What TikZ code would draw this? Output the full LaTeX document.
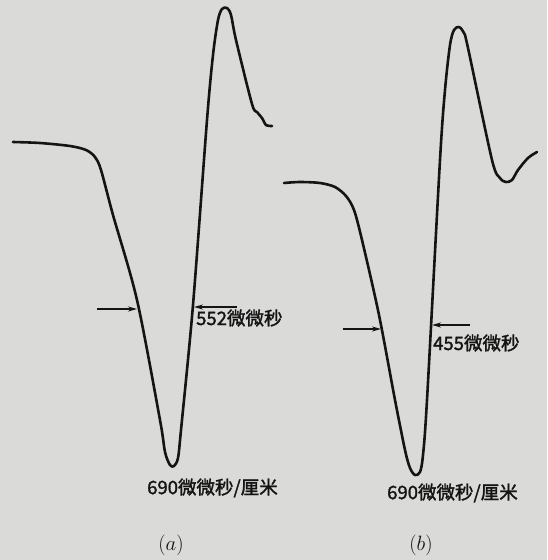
\documentclass[tikz,border=0pt]{standalone}
\usepackage{fontspec}
\setmainfont{Noto Sans CJK SC}
\newfontfamily\lblfont{Noto Sans CJK SC}[FakeBold=1.6]
\usetikzlibrary{arrows.meta}
\definecolor{paper}{RGB}{218,218,216}
\definecolor{ink}{RGB}{20,20,20}
\tikzset{
	trace/.style={ink, line width=2.6pt, line cap=round, line join=round},
	dimarrow/.style={ink, line width=1.5pt, -{Stealth[length=9pt,width=5pt]}},
	lbl/.style={ink, font=\lblfont\fontsize{18.5}{20}\selectfont, inner sep=0pt},
	sublbl/.style={ink, font=\fontsize{21}{23}\selectfont, inner sep=0pt}
}
\begin{document}
\begin{tikzpicture}[x=1pt, y=-1pt]
		\useasboundingbox (0,0) rectangle (547,560);
		\fill[paper] (0,0) rectangle (547,560);
		% curve (a)
		\draw[trace] plot[smooth, tension=0.5] coordinates {(13,142) (40,143) (70,146) (86,150) (95,157) (101,170) (113,215) (137,300) (160,420) (165,452) (170,465) (174,466) (178,458) (181,430) (193,305) (207,120) (213,55) (218,20) (222,9) (227,8) (231,15) (236,40) (252,104) (257,112) (262,118) (266,125) (272,126)};
		% curve (b)
		\draw[trace] plot[smooth, tension=0.5] coordinates {(284,183) (300,182) (320,183) (335,187) (346,196) (354,210) (362,240) (379,315) (395,400) (405,450) (410,468) (415,475) (420,472) (423,455) (427,400) (440,160) (445,90) (450,45) (454,30) (459,27) (464,33) (468,48) (492,160) (500,178) (506,182) (512,180) (518,170) (528,158) (537,152)};
		% width markers
		\coordinate (aLs) at (97,309);
		\coordinate (aLe) at (137,309);
		\coordinate (aRs) at (237,307);
		\coordinate (aRe) at (194,307);
		\coordinate (bLs) at (343,329);
		\coordinate (bLe) at (381,329);
		\coordinate (bRs) at (470,325);
		\coordinate (bRe) at (432,325);
		\draw[dimarrow] (aLs) -- (aLe);
		\draw[dimarrow] (aRs) -- (aRe);
		\draw[dimarrow] (bLs) -- (bLe);
		\draw[dimarrow] (bRs) -- (bRe);
		\node[lbl, anchor=west] (wa) at (196,318) {552微微秒};
		\node[lbl, anchor=west] (wb) at (433,343) {455微微秒};
		\node[lbl, anchor=west] (sa) at (147,488) {690微微秒/厘米};
		\node[lbl, anchor=west] (sb) at (387,493) {690微微秒/厘米};
		\node[sublbl] (ca) at (171,545) {$(a)$};
		\node[sublbl] (cb) at (421,545) {$(b)$};
\end{tikzpicture}
\end{document}
